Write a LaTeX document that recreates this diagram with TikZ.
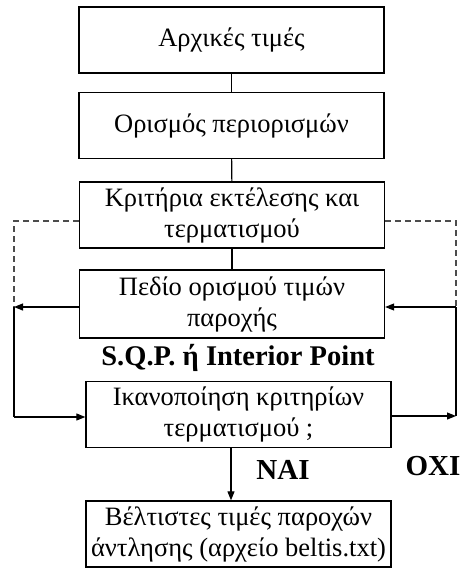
\documentclass[tikz,border=0pt]{standalone}
\usepackage{fontspec}
\setmainfont{Liberation Serif}
\usetikzlibrary{arrows.meta,calc}

\tikzset{
  box/.style={draw, line width=1.3pt, minimum width=305pt, minimum height=66pt,
              inner sep=0pt, align=center, font=\fontsize{26.5}{31}\selectfont},
  link/.style={line width=1.1pt},
  flow/.style={link, -{Triangle[length=9pt,width=7pt]}},
  loopdash/.style={link, dash pattern=on 6pt off 4pt, gray!60!black},
  tag/.style={font=\fontsize{29}{32}\selectfont\bfseries, inner sep=0pt}
}

\begin{document}
\begin{tikzpicture}[x=1pt,y=-1pt]
  \useasboundingbox (0,0) rectangle (461,568);

  % process boxes
  \node[box] (init)  at (231.5,40)    {Αρχικές τιμές};
  \node[box] (cons)  at (231.5,125.5) {Ορισμός περιορισμών};
  \node[box] (crit)  at (232,215)     {Κριτήρια εκτέλεσης και\\τερματισμού};
  \node[box, minimum height=68pt] (range) at (232,304) {Πεδίο ορισμού τιμών\\παροχής};
  \node[box] (check) at (238.5,414.5) {Ικανοποίηση κριτηρίων\\τερματισμού ;};
  \node[box] (best)  at (238.5,534)   {Βέλτιστες τιμές παροχών\\άντλησης (αρχείο beltis.txt)};

  % labels
  \node[tag, font=\fontsize{28.5}{32}\selectfont\bfseries] (sqp) at (238,358) {S.Q.P. ή Interior Point};
  \node[tag] (yes) at (283,470) {ΝΑΙ};
  \node[tag] (no)  at (433,466) {ΟΧΙ};

  % loop corners
  \coordinate (l1) at (14,221);
  \coordinate (l2) at (14,307);
  \coordinate (l3) at (14,417);
  \coordinate (r1) at (456,221);
  \coordinate (r2) at (456,307);
  \coordinate (r3) at (456,416);

  % main chain
  \draw[link] (init) -- (cons);
  \draw[link] (cons) -- (crit);
  \draw[link] (crit) -- (range);
  \draw[flow] (check.south -| 231,0) -- (best.north -| 231,0);

  % left loop
  \draw[loopdash] (crit.west |- l1) -- (l1) -- (l2);
  \draw[flow] (range.west |- l2) -- (l2);
  \draw[link] (l2) -- (l3);
  \draw[flow] (l3) -- (check.west |- l3);

  % right loop
  \draw[loopdash] (crit.east |- r1) -- (r1) -- (r2);
  \draw[link] (r3) -- (r2);
  \draw[flow] (r2) -- (range.east |- r2);
  \draw[flow] (check.east |- r3) -- (r3);
\end{tikzpicture}
\end{document}
